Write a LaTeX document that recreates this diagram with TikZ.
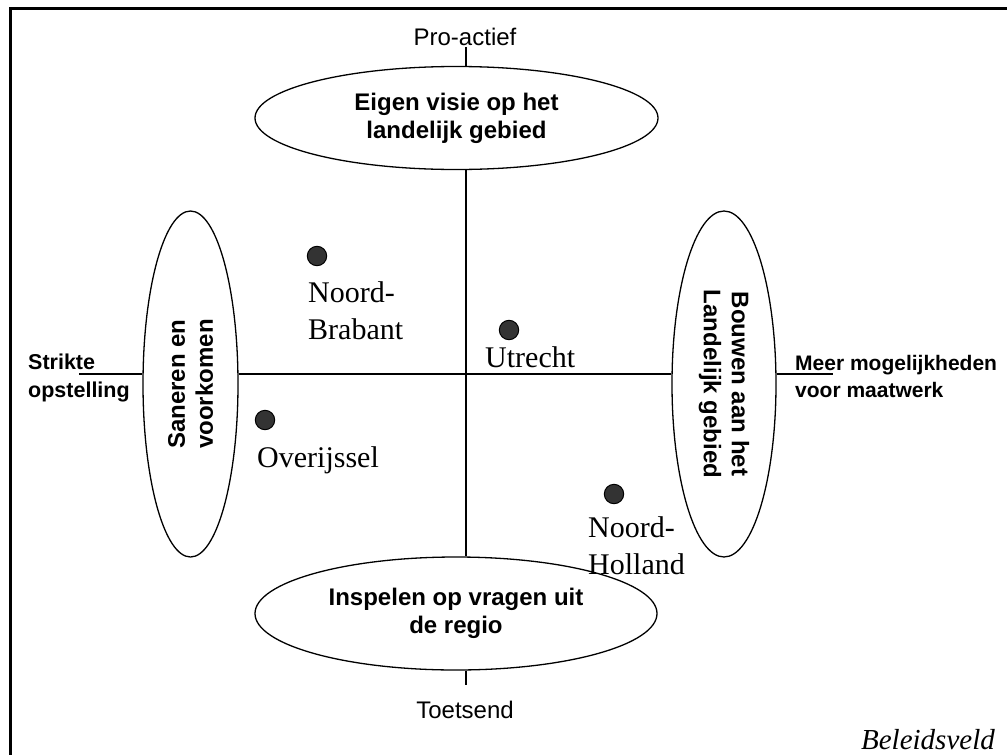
\documentclass[tikz,border=0pt]{standalone}
\usepackage{fontspec}
\setmainfont{Liberation Serif}
\setsansfont{Liberation Sans}
\usetikzlibrary{shapes.geometric}

\begin{document}
\begin{tikzpicture}[x=1pt,y=-1pt,
	veld/.style={draw,ellipse,line width=1.3pt,inner sep=0pt,align=center,font=\sffamily\bfseries\fontsize{24}{28}\selectfont},
	pool/.style={anchor=base,inner sep=2pt,font=\sffamily\fontsize{24}{28}\selectfont},
	as/.style={line width=2pt},
	stip/.style={circle,draw,line width=1pt,fill=black!80,minimum size=19.4pt,inner sep=0pt},
	prov/.style={anchor=base west,align=left,inner sep=0pt,font=\fontsize{30}{37}\selectfont}]
	\useasboundingbox (0,0) rectangle (1007,755);
	%FRAME
	\draw[line width=3pt] (10,755)--(10,8.5)--(1007,8.5);

	%FIELDS
	\node[veld,minimum width=403pt,minimum height=103pt] (eigen) at (456.5,118) {Eigen visie op het\\landelijk gebied};
	\node[veld,minimum width=402pt,minimum height=113pt] (inspelen) at (456,613.5) {Inspelen op vragen uit\\de regio};
	\node[veld,rotate=90,minimum width=346pt,minimum height=95pt] (saneren) at (190.5,384) {Saneren en\\voorkomen};
	\node[veld,rotate=-90,minimum width=346pt,minimum height=104pt] (bouwen) at (724,384) {Bouwen aan het\\Landelijk gebied};

	%AXES
	\coordinate (kruis) at (466,374);
	\node[pool] (proactief) at (465,45) {Pro-actief};
	\node[pool] (toetsend) at (465,718) {Toetsend};
	\coordinate (onder) at (466,685);
	\coordinate (links) at (79,374);
	\coordinate (rechts) at (833,374);
	\draw[as] (kruis |- proactief.south) -- (kruis |- eigen.north);
	\draw[as] (kruis |- eigen.south) -- (kruis |- inspelen.north);
	\draw[as] (kruis |- inspelen.south) -- (onder);
	% rotated fields: north of saneren is its left side, north of bouwen its right side
	\draw[as] (links) -- (kruis -| saneren.north);
	\draw[as] (kruis -| saneren.south) -- (kruis -| bouwen.south);
	\draw[as] (kruis -| bouwen.north) -- (rechts);
	% base of a two-line node is the baseline of its last line
	\node[anchor=base west,align=left,inner sep=0pt,font=\sffamily\bfseries\fontsize{21.5}{28}\selectfont] (strikte) at (28,397) {Strikte\\opstelling};
	\node[anchor=base west,align=left,inner sep=0pt,font=\sffamily\bfseries\fontsize{21}{27}\selectfont] (meer) at (795,397) {Meer mogelijkheden\\voor maatwerk};

	%PROVINCES
	\node[stip] (nbstip) at (317,256) {};
	\node[prov] (nb) at (308,339) {Noord-\\Brabant};
	\node[stip] (utstip) at (509,330) {};
	\node[prov] (ut) at (485,367) {Utrecht};
	\node[stip] (ovstip) at (265,420) {};
	\node[prov] (ov) at (257,467) {Overijssel};
	\node[stip] (nhstip) at (614,494) {};
	\node[prov] (nh) at (588,574) {Noord-\\Holland};

	\node[anchor=base east,inner sep=0pt,font=\itshape\fontsize{29}{34}\selectfont] (beleid) at (995,749) {Beleidsveld};
\end{tikzpicture}
\end{document}
